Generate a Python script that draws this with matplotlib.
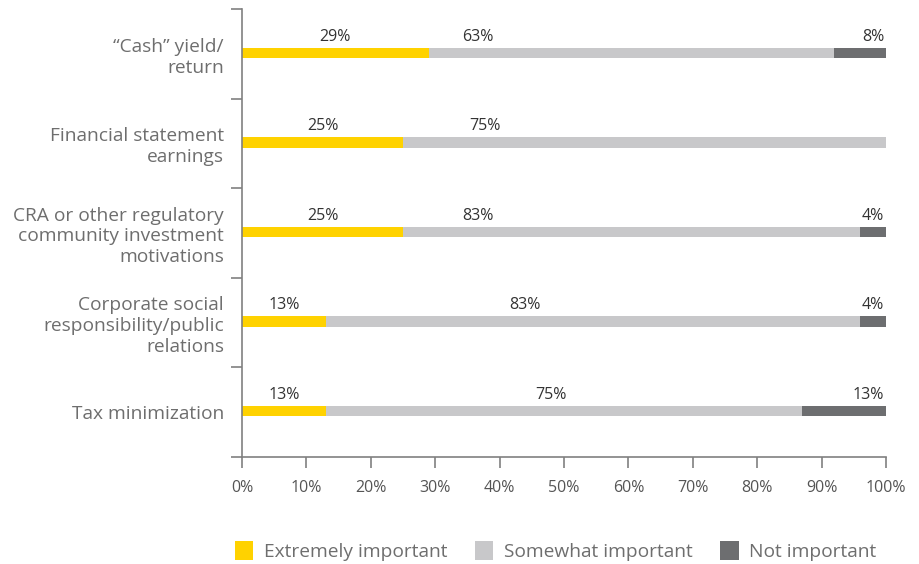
import matplotlib
matplotlib.use("Agg")
import matplotlib.pyplot as plt
from matplotlib.patches import Patch
import numpy as np

categories = [
    "\u201cCash\u201d yield/\nreturn",
    "Financial statement\nearnings",
    "CRA or other regulatory\ncommunity investment\nmotivations",
    "Corporate social\nresponsibility/public\nrelations",
    "Tax minimization",
]
extremely = [29, 25, 25, 13, 13]
somewhat = [63, 75, 83, 83, 75]
not_imp = [8, 0, 4, 4, 13]
series_names = ["Extremely important", "Somewhat important", "Not important"]

# x position (percent) where each "somewhat" label sits
somewhat_label_x = [36.6, 37.7, 36.6, 43.9, 48.0]

yellow = "#FFD200"
light = "#C8C8CA"
dark = "#6D6E70"
axis_col = "#808080"

plt.rcParams["font.family"] = ["Open Sans", "DejaVu Sans"]

fig = plt.figure(figsize=(9.2, 5.64), dpi=100)
ax = fig.add_axes([0.263, 0.19, 0.7, 0.794])

y = np.arange(len(categories)) - 0.01
ext = np.array(extremely, dtype=float)
no = np.array(not_imp, dtype=float)
mid = 100 - ext - no  # grey segment fills the rest of the bar
bh = 0.115

ax.barh(y, ext, height=bh, color=yellow, linewidth=0)
ax.barh(y, mid, left=ext, height=bh, color=light, linewidth=0)
ax.barh(y, no, left=ext + mid, height=bh, color=dark, linewidth=0)

for i in range(len(categories)):
    ty = y[i] - bh / 2 - 0.035
    ax.text(ext[i] / 2, ty, f"{extremely[i]}%", ha="center", va="bottom",
            fontsize=11.5, color="#333333")
    ax.text(somewhat_label_x[i], ty, f"{somewhat[i]}%", ha="center", va="bottom",
            fontsize=11.5, color="#333333")
    if not_imp[i] > 0:
        ax.text(99.7, ty, f"{not_imp[i]}%", ha="right", va="bottom",
                fontsize=11.5, color="#333333")

ax.set_xlim(0, 100)
ax.set_ylim(len(categories) - 0.5, -0.5)

ax.set_xticks(np.arange(0, 101, 10))
ax.set_xticklabels([f"{v}%" for v in range(0, 101, 10)])
ax.tick_params(axis="x", direction="out", length=8, width=1.2, color=axis_col,
               labelsize=11.5, labelcolor="#555555", pad=9)

# boundaries get the tick marks, centres get the labels
ax.set_yticks(np.arange(-0.5, len(categories), 1))
ax.set_yticklabels([])
ax.set_yticks(np.arange(len(categories)), minor=True)
ax.set_yticklabels(categories, minor=True, ha="right", multialignment="right")
ax.tick_params(axis="y", which="major", direction="out", length=8, width=1.2,
               color=axis_col)
ax.tick_params(axis="y", which="minor", length=0, pad=13, labelsize=13.8,
               labelcolor="#6e6e6e")

for s in ["top", "right"]:
    ax.spines[s].set_visible(False)
for s in ["left", "bottom"]:
    ax.spines[s].set_color(axis_col)
    ax.spines[s].set_linewidth(1.2)

handles = [Patch(color=c, linewidth=0) for c in (yellow, light, dark)]
fig.legend(handles, series_names, loc="center", bbox_to_anchor=(0.604, 0.023),
           ncol=3, frameon=False, fontsize=13.8, labelcolor="#6e6e6e",
           handlelength=0.95, handleheight=1.15, handletextpad=0.55,
           columnspacing=1.45)

fig.savefig("out.png", dpi=100)
